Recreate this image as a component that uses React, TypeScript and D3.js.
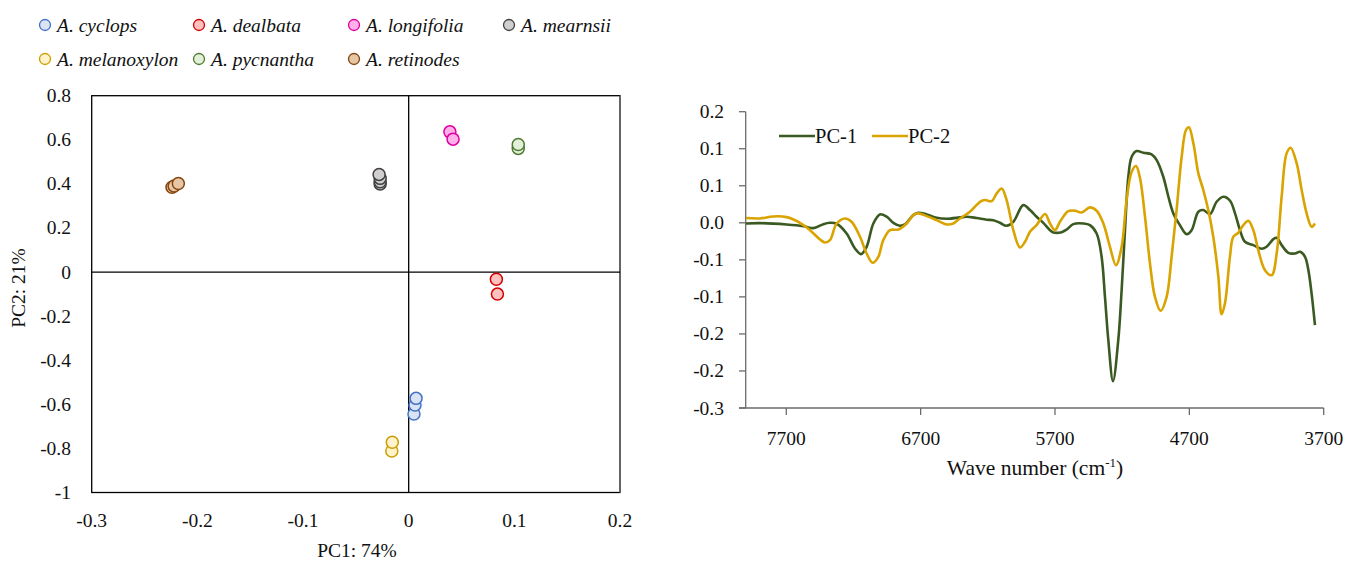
import React from "react";
import * as d3 from "d3";

// ---------- Left chart: PCA scores ----------
const species = ["A. cyclops", "A. dealbata", "A. longifolia", "A. mearnsii", "A. melanoxylon", "A. pycnantha", "A. retinodes"];
const fills = ["#DAE3F3", "#FFC0C0", "#FFB0E8", "#D0CECE", "#FFF2CC", "#E2F0D9", "#E6C6A4"];
const strokes = ["#4472C4", "#D40000", "#E000A0", "#404040", "#C9A000", "#4E7A30", "#84450F"];

const cyclopsPts: [number, number][] = [[0.005, -0.644], [0.006, -0.603], [0.007, -0.573]];
const dealbataPts: [number, number][] = [[0.083, -0.033], [0.084, -0.1]];
const longifoliaPts: [number, number][] = [[0.039, 0.636], [0.042, 0.603]];
const mearnsiiPts: [number, number][] = [[-0.027, 0.4], [-0.027, 0.41], [-0.027, 0.425], [-0.028, 0.443]];
const melanoxylonPts: [number, number][] = [[-0.016, -0.812], [-0.0155, -0.772]];
const pycnanthaPts: [number, number][] = [[0.1037, 0.561], [0.1037, 0.579]];
const retinodesPts: [number, number][] = [[-0.224, 0.385], [-0.222, 0.39], [-0.218, 0.402]];
const speciesPts = [cyclopsPts, dealbataPts, longifoliaPts, mearnsiiPts, melanoxylonPts, pycnanthaPts, retinodesPts];

const pcaXTicks = [-0.3, -0.2, -0.1, 0, 0.1, 0.2];
const pcaXLabels = ["-0.3", "-0.2", "-0.1", "0", "0.1", "0.2"];
const pcaYTicks = [0.8, 0.6, 0.4, 0.2, 0, -0.2, -0.4, -0.6, -0.8, -1];
const pcaYLabels = ["0.8", "0.6", "0.4", "0.2", "0", "-0.2", "-0.4", "-0.6", "-0.8", "-1"];

// ---------- Right chart: loadings ----------
const waveNumbers1 = [8000, 7896, 7697, 7573, 7499, 7424, 7375, 7325, 7251, 7189, 7144, 7102, 7052, 7003, 6953, 6903, 6854, 6817, 6755, 6717, 6655, 6581, 6506, 6407, 6358, 6283, 6209, 6159, 6110, 6060, 6010, 5936, 5886, 5837, 5787, 5737, 5712, 5650, 5613, 5564, 5489, 5440, 5390, 5353, 5328, 5303, 5268, 5229, 5204, 5179, 5154, 5129, 5092, 5043, 4981, 4943, 4894, 4856, 4819, 4770, 4720, 4683, 4633, 4596, 4546, 4497, 4447, 4397, 4360, 4323, 4286, 4224, 4162, 4125, 4075, 4050, 4013, 3963, 3914, 3876, 3839, 3814, 3790, 3765];
const pc1Values = [-0.0009, -0.0004, -0.0022, -0.0045, -0.0072, -0.0018, 0.0, -0.0013, -0.0144, -0.0346, -0.0423, -0.0324, -0.0009, 0.0113, 0.0082, 0.0, -0.004, -0.0022, 0.0104, 0.0136, 0.0113, 0.0068, 0.0055, 0.0073, 0.0082, 0.0064, 0.0041, 0.0036, 0.0, -0.004, 0.0014, 0.0239, 0.0172, 0.0082, 0.0, -0.0099, -0.013, -0.0126, -0.009, -0.0018, -0.0009, -0.0031, -0.0144, -0.0459, -0.1, -0.1585, -0.2139, -0.1585, -0.091, -0.0099, 0.0622, 0.0892, 0.0969, 0.0946, 0.0924, 0.0847, 0.0622, 0.0352, 0.0127, -0.0031, -0.0153, -0.0099, 0.0149, 0.0172, 0.0118, 0.0284, 0.0352, 0.0298, 0.0127, -0.0099, -0.0256, -0.0301, -0.0351, -0.0324, -0.022, -0.0202, -0.0301, -0.0405, -0.0414, -0.0391, -0.0459, -0.0639, -0.0955, -0.1382];

const waveNumbers2 = [8000, 7896, 7797, 7697, 7598, 7524, 7449, 7412, 7375, 7325, 7263, 7214, 7151, 7102, 7057, 7015, 6978, 6928, 6866, 6804, 6755, 6717, 6655, 6581, 6506, 6457, 6407, 6333, 6258, 6221, 6171, 6134, 6097, 6060, 6010, 5961, 5923, 5886, 5837, 5774, 5737, 5700, 5663, 5601, 5551, 5502, 5440, 5390, 5340, 5291, 5246, 5204, 5167, 5129, 5097, 5067, 5030, 4993, 4956, 4914, 4869, 4832, 4795, 4757, 4725, 4703, 4670, 4633, 4596, 4559, 4522, 4484, 4460, 4435, 4398, 4373, 4336, 4298, 4261, 4224, 4187, 4137, 4087, 4050, 4013, 3976, 3946, 3901, 3864, 3827, 3790, 3765];
const pc2Values = [0.0064, 0.0059, 0.0086, 0.0077, 0.0, -0.0099, -0.0225, -0.0265, -0.0234, -0.0009, 0.0059, 0.0014, -0.0189, -0.0414, -0.054, -0.0459, -0.0234, -0.0099, -0.009, -0.0009, 0.0104, 0.0127, 0.009, 0.0036, -0.0022, -0.0009, 0.0059, 0.0149, 0.0284, 0.0307, 0.0293, 0.0397, 0.0464, 0.0307, -0.0099, -0.0333, -0.0256, -0.0121, -0.0031, 0.0118, -0.0009, -0.0099, 0.0014, 0.0158, 0.0163, 0.014, 0.0208, 0.0163, -0.0009, -0.0324, -0.0572, -0.0324, 0.0307, 0.069, 0.0766, 0.06, 0.0082, -0.0549, -0.1, -0.1189, -0.1, -0.0459, 0.0172, 0.0892, 0.1253, 0.1289, 0.1073, 0.0667, 0.0442, 0.0172, -0.0189, -0.0729, -0.1234, -0.109, -0.0459, -0.0189, -0.0135, -0.0031, 0.0027, -0.0099, -0.0369, -0.0639, -0.0707, -0.0414, 0.0352, 0.0937, 0.1014, 0.0802, 0.0442, 0.0127, -0.0054, -0.0009];

const seriesNames = ["PC-1", "PC-2"];
const seriesColors = ["#3A5A22", "#D9A300"];
const loadYTicks = [0.15, 0.1, 0.05, 0, -0.05, -0.1, -0.15, -0.2, -0.25];
const loadYLabels = ["0.2", "0.1", "0.1", "0.0", "-0.1", "-0.1", "-0.2", "-0.2", "-0.3"];
const loadXTicks = [7700, 6700, 5700, 4700, 3700];

const FONT = "'Liberation Serif', 'Times New Roman', serif";

export default function App() {
  // left scales
  const xL = d3.scaleLinear().domain([-0.3, 0.2]).range([91.7, 620]);
  const yL = d3.scaleLinear().domain([-1, 0.8]).range([492.5, 95.7]);
  // right scales
  const xR = d3.scaleLinear().domain([8002, 3700]).range([745.7, 1323.7]);
  const yR = d3.scaleLinear().domain([-0.25, 0.15]).range([408, 111.7]);

  const line = d3
    .line<[number, number]>()
    .x((d) => xR(d[0]))
    .y((d) => yR(d[1]))
    .curve(d3.curveCatmullRom.alpha(0.5));

  const pc1: [number, number][] = waveNumbers1.map((w, i) => [w, pc1Values[i]]);
  const pc2: [number, number][] = waveNumbers2.map((w, i) => [w, pc2Values[i]]);

  const legendCols = [45, 199, 354, 509];
  const legendRows = [25, 59];

  return (
    <svg
      width={1358}
      height={561}
      style={{ position: "absolute", left: 0, top: 0, background: "#fff" }}
      fontFamily={FONT}
    >
      <rect x={0} y={0} width={1358} height={561} fill="#fff" />

      {/* Legend (left) */}
      {species.map((s, i) => {
        const cx = legendCols[i % 4];
        const cy = legendRows[Math.floor(i / 4)];
        return (
          <g key={s}>
            <circle cx={cx} cy={cy} r={5.5} fill={fills[i]} stroke={strokes[i]} strokeWidth={1.3} />
            <text x={cx + 12} y={cy + 6.5} fontSize={19.5} fontStyle="italic" fill="#111">
              {s}
            </text>
          </g>
        );
      })}

      {/* Left plot frame */}
      <rect x={xL(-0.3)} y={yL(0.8)} width={xL(0.2) - xL(-0.3)} height={yL(-1) - yL(0.8)} fill="none" stroke="#000" strokeWidth={1.3} />
      <line x1={xL(0.2)} x2={xL(0.2)} y1={yL(0.8)} y2={yL(-1)} stroke="#666" strokeWidth={1.8} />
      <line x1={xL(-0.3)} x2={xL(0.2)} y1={yL(0)} y2={yL(0)} stroke="#000" strokeWidth={1.3} />
      <line x1={xL(0)} x2={xL(0)} y1={yL(0.8)} y2={yL(-1)} stroke="#000" strokeWidth={1.3} />

      {pcaYTicks.map((t, i) => (
        <text key={"ly" + i} x={71} y={yL(t) + 6.5} fontSize={19.5} textAnchor="end" fill="#111">
          {pcaYLabels[i]}
        </text>
      ))}
      {pcaXTicks.map((t, i) => (
        <text key={"lx" + i} x={xL(t)} y={527} fontSize={19.5} textAnchor="middle" fill="#111">
          {pcaXLabels[i]}
        </text>
      ))}
      <text x={357} y={557} fontSize={19.5} textAnchor="middle" fill="#111">
        PC1: 74%
      </text>
      <text transform="translate(25,288) rotate(-90)" fontSize={19.5} textAnchor="middle" fill="#111">
        PC2: 21%
      </text>

      {speciesPts.map((pts, i) =>
        pts.map((p, j) => (
          <circle key={"p" + i + "-" + j} cx={xL(p[0])} cy={yL(p[1])} r={6} fill={fills[i]} stroke={strokes[i]} strokeWidth={1.5} />
        ))
      )}

      {/* Right chart axes */}
      <line x1={xR(8002)} x2={xR(8002)} y1={yR(0.15)} y2={yR(-0.25)} stroke="#6b6b6b" strokeWidth={1.3} />
      <line x1={739} x2={xR(3700)} y1={yR(-0.25)} y2={yR(-0.25)} stroke="#6b6b6b" strokeWidth={1.3} />
      {loadYTicks.map((t, i) => (
        <g key={"ry" + i}>
          <line x1={739} x2={xR(8002)} y1={yR(t)} y2={yR(t)} stroke="#6b6b6b" strokeWidth={1.3} />
          <text x={724} y={yR(t) + 6.5} fontSize={19.5} textAnchor="end" fill="#111">
            {loadYLabels[i]}
          </text>
        </g>
      ))}
      {loadXTicks.map((t, i) => (
        <g key={"rx" + i}>
          <line x1={xR(t)} x2={xR(t)} y1={yR(-0.25)} y2={yR(-0.25) + 7} stroke="#6b6b6b" strokeWidth={1.3} />
          <text x={xR(t)} y={445} fontSize={19.5} textAnchor="middle" fill="#111">
            {t}
          </text>
        </g>
      ))}
      <text x={1035} y={475} fontSize={21.5} textAnchor="middle" fill="#111">
        Wave number (cm
        <tspan dy={-8} fontSize={13}>-1</tspan>
        <tspan dy={8}>)</tspan>
      </text>

      {/* Lines */}
      <path d={line(pc1) || ""} fill="none" stroke={seriesColors[0]} strokeWidth={2.6} strokeLinejoin="round" />
      <path d={line(pc2) || ""} fill="none" stroke={seriesColors[1]} strokeWidth={2.6} strokeLinejoin="round" />

      {/* Right legend */}
      {seriesNames.map((n, i) => {
        const x0 = i === 0 ? 779 : 872;
        return (
          <g key={n}>
            <line x1={x0} x2={x0 + 36} y1={136} y2={136} stroke={seriesColors[i]} strokeWidth={2.6} />
            <text x={x0 + 36} y={143} fontSize={20.5} fill="#111">
              {n}
            </text>
          </g>
        );
      })}
    </svg>
  );
}
